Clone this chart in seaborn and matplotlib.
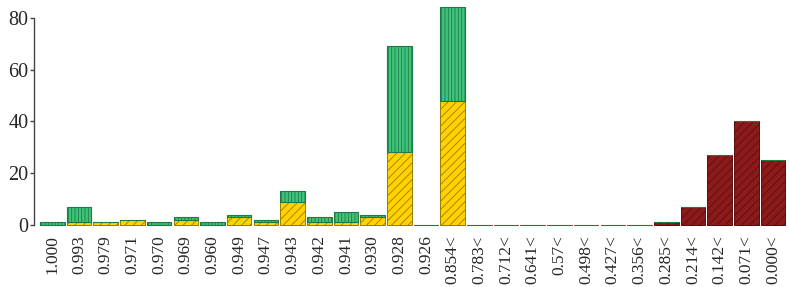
import matplotlib
matplotlib.use("Agg")
import matplotlib.pyplot as plt
import seaborn as sns
import numpy as np

# bin labels (similarity thresholds)
labels = ["1.000", "0.993", "0.979", "0.971", "0.970", "0.969", "0.960", "0.949",
          "0.947", "0.943", "0.942", "0.941", "0.930", "0.928", "0.926", "0.854<",
          "0.783<", "0.712<", "0.641<", "0.57<", "0.498<", "0.427<", "0.356<",
          "0.285<", "0.214<", "0.142<", "0.071<", "0.000<"]

yellow = [0, 1, 1, 2, 0, 2, 0, 3, 1, 9, 1, 1, 3, 28, 0, 48,
          0, 0, 0, 0, 0, 0, 0, 0, 0, 0, 0, 0]
green = [1, 6, 0, 0, 1, 1, 1, 1, 1, 4, 2, 4, 1, 41, 0, 36,
         0, 0, 0, 0, 0, 0, 0, 0, 0, 0, 0, 0]
red = [0, 0, 0, 0, 0, 0, 0, 0, 0, 0, 0, 0, 0, 0, 0, 0,
       0, 0, 0, 0, 0, 0, 0, 1, 7, 27, 40, 25]

sns.set_style("white")
plt.rcParams["font.family"] = ["Liberation Serif", "DejaVu Serif"]
plt.rcParams["hatch.linewidth"] = 0.6

fig = plt.figure(figsize=(7.89, 2.87), dpi=100)
ax = fig.add_axes([0.043, 0.216, 0.957, 0.767])

bottom_green = np.array(yellow) + np.array(red)

sns.barplot(x=labels, y=yellow, color="#FFD200", edgecolor="#9C7A00",
            linewidth=0.7, hatch="////", width=0.92, saturation=1, ax=ax)
sns.barplot(x=labels, y=red, bottom=yellow, color="#8B1A1A", edgecolor="#5A0E0E",
            linewidth=0.7, hatch="////", width=0.92, saturation=1, ax=ax)
sns.barplot(x=labels, y=green, bottom=bottom_green, color="#3FC47E", edgecolor="#1F7A45",
            linewidth=0.8, hatch="|||||", width=0.92, saturation=1, ax=ax)
for p in ax.patches:
    p.set_clip_on(False)

ax.set_xlim(-0.69, 27.6)
ax.set_ylim(0, 85)
ax.set_yticks([0, 20, 40, 60, 80])
for s in ["top", "right", "bottom"]:
    ax.spines[s].set_visible(False)
ax.spines["left"].set_bounds(0, 80)
ax.spines["left"].set_color("#444444")
ax.spines["left"].set_linewidth(1.0)
ax.tick_params(axis="y", left=True, length=3, width=1, color="#444444",
               pad=1, labelsize=14.5)
ax.tick_params(axis="x", bottom=False, pad=4, labelsize=12.5, labelrotation=90)
ax.set_xlabel("")
ax.set_ylabel("")

fig.savefig("out.png", dpi=100)
